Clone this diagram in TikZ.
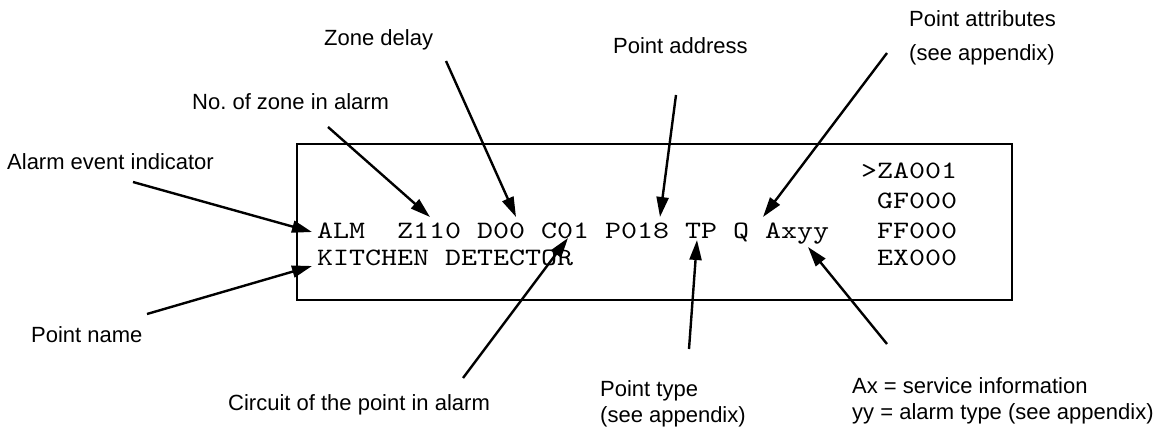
\documentclass[tikz,border=0pt]{standalone}
\usepackage{fontspec}
\newfontfamily\lblfont{Liberation Sans}
\newfontfamily\lcdfont[FakeStretch=1.219]{lmmono10-regular.otf}
\usepackage{tikz}
\usetikzlibrary{calc}
\usetikzlibrary{arrows.meta}
\frenchspacing

\begin{document}
\begin{tikzpicture}[x=1pt, y=-1pt,
  lbl/.style={anchor=base west, inner sep=0pt, align=left, font=\lblfont\fontsize{22}{33}\selectfont},
  lbltwo/.style={lbl, font=\lblfont\fontsize{22}{26}\selectfont},
  field/.style={anchor=base west, inner sep=0pt, font=\lcdfont\fontsize{25}{29}\selectfont},
  arr/.style={line width=2.4pt, -{Triangle[length=20pt,width=12pt]}}]
  \useasboundingbox (0,0) rectangle (1156,428);

  \node[name=lcd, draw, line width=2pt, anchor=north west, inner sep=0pt,
        minimum width=715pt, minimum height=156pt] at (296,143) {};

  \node[name=alm, field] at (317,238) {ALM};
  \node[name=zone, field] at (397,238) {Z110};
  \node[name=delay, field] at (477,238) {D00};
  \node[name=circ, field] at (541,238) {C01};
  \node[name=addr, field] at (605,238) {P018};
  \node[name=ptype, field] at (685,238) {TP};
  \node[name=attr, field] at (733,238) {Q};
  \node[name=axyy, field] at (765,238) {Axyy};
  \node[name=pname, field] at (317,265) {KITCHEN DETECTOR};
  \node[name=za, field] at (861,178) {>ZA001};
  \node[name=gf, field] at (877,208) {GF000};
  \node[name=ff, field] at (877,238) {FF000};
  \node[name=ex, field] at (877,265) {EX000};

  \node[name=lalarm, lbl] at (7,169) {Alarm event indicator};
  \node[name=lzone, lbl] at (192,109) {No. of zone in alarm};
  \node[name=ldelay, lbl] at (324,46) {Zone delay};
  \node[name=laddr, lbl] at (613,53) {Point address};
  \node[name=lattr, lbl] at (909,60) {Point attributes\\(see appendix)};
  \node[name=lname, lbl] at (31,342) {Point name};
  \node[name=lcirc, lbl] at (228,410) {Circuit of the point in alarm};
  \node[name=ltype, lbltwo] at (600,422) {Point type\\(see appendix)};
  \node[name=lax, lbltwo] at (852,419) {Ax = service information\\yy = alarm type (see appendix)};

  \draw[arr] ($(lalarm.base west)+(126,13)$) to ($(alm.base west)+(-5,-6)$);
  \draw[arr] ($(lname.base west)+(116,-28)$) to ($(pname.base west)+(-5,1)$);
  \draw[arr] ($(lzone.base west)+(136,18)$) to ($(zone.base west)+(33,-21)$);
  \draw[arr] ($(ldelay.base west)+(122,15)$) to ($(delay.base west)+(39,-21)$);
  \draw[arr] ($(laddr.base west)+(63,42)$) to ($(addr.base west)+(55,-21)$);
  \draw[arr] ($(lattr.base west)+(-22,-7)$) to ($(axyy.base west)+(-2,-21)$);
  \draw[arr] ($(lcirc.base west)+(235,-32)$) to ($(circ.base west)+(27,0)$);
  \draw[arr] ($(ltype.base west)+(89,-73)$) to ($(ptype.base west)+(12,2)$);
  \draw[arr] ($(lax.base west)+(35,-75)$) to ($(axyy.base west)+(43,9)$);
\end{tikzpicture}
\end{document}
